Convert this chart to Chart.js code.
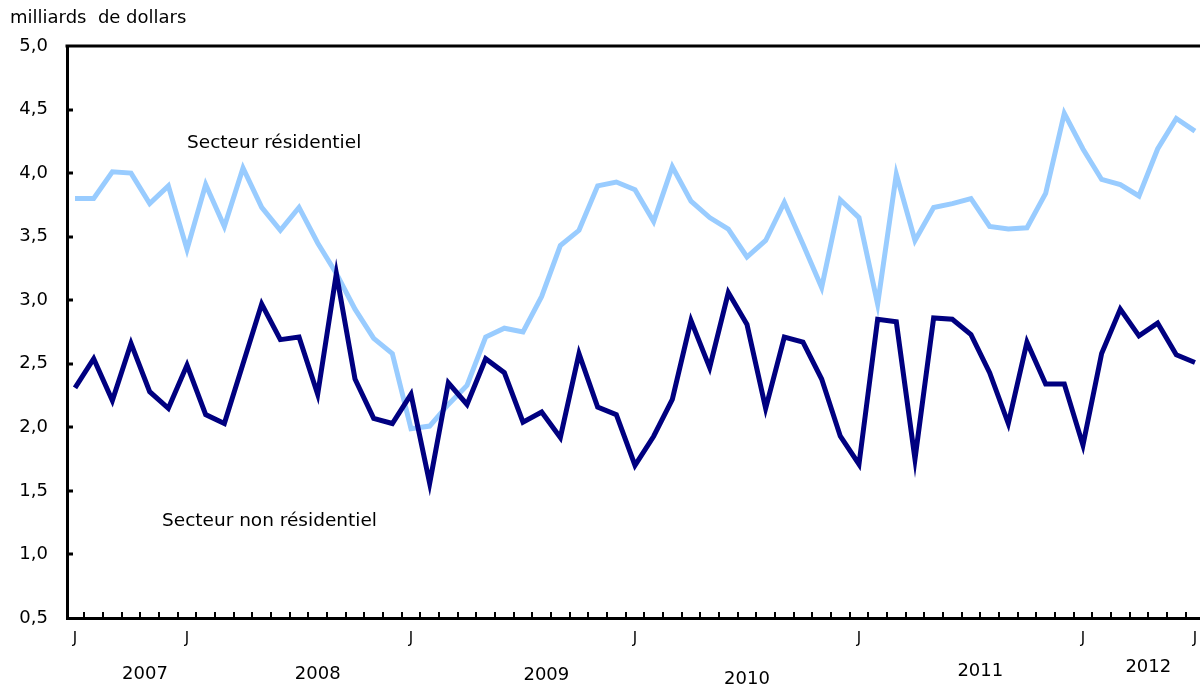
<!DOCTYPE html>
<html>
<head>
<meta charset="utf-8">
<script src="https://cdn.jsdelivr.net/npm/chart.js@4.4.0/dist/chart.umd.min.js"></script>
<style>
  html, body { margin: 0; padding: 0; background: #fff; }
  #wrap { width: 1200px; height: 685px; position: relative; }
</style>
</head>
<body>
<div id="wrap"><canvas id="graphique"></canvas></div>
<script>
// valeurs mensuelles, janvier 2007 a janvier 2012 (milliards de dollars)
const residentiel = [3.80, 3.80, 4.01, 4.00, 3.76, 3.90, 3.40, 3.91, 3.58, 4.04,
  3.73, 3.55, 3.73, 3.45, 3.21, 2.93, 2.70, 2.58, 1.99, 2.01,
  2.18, 2.33, 2.71, 2.78, 2.75, 3.03, 3.43, 3.55, 3.90, 3.93,
  3.87, 3.62, 4.05, 3.78, 3.65, 3.56, 3.34, 3.47, 3.77, 3.44,
  3.10, 3.79, 3.65, 2.97, 3.99, 3.47, 3.73, 3.76, 3.80, 3.58,
  3.56, 3.57, 3.84, 4.47, 4.19, 3.95, 3.91, 3.82, 4.19, 4.43, 4.33];
const nonResidentiel = [2.31, 2.54, 2.21, 2.66, 2.28, 2.15, 2.49, 2.10, 2.03, 2.50,
  2.97, 2.69, 2.71, 2.26, 3.21, 2.38, 2.07, 2.03, 2.26, 1.56,
  2.35, 2.18, 2.54, 2.43, 2.04, 2.12, 1.92, 2.58, 2.16, 2.10,
  1.70, 1.93, 2.22, 2.84, 2.47, 3.06, 2.81, 2.15, 2.71, 2.67,
  2.38, 1.93, 1.71, 2.85, 2.83, 1.75, 2.86, 2.85, 2.73, 2.43,
  2.03, 2.67, 2.34, 2.34, 1.86, 2.58, 2.93, 2.72, 2.82, 2.57, 2.51];

// etiquettes de l'axe des x (telles qu'elles figurent sur le graphique)
const moisEtiquettes = [0, 6, 18, 30, 42, 54, 60];
const annees = ['2007', '2008', '2009', '2010', '2011', '2012'];
const anneesPos = [3.75, 13.0, 25.25, 36.0, 48.5, 57.5];
const anneesDecalage = [0, 0, 1, 5, -3, -7];
const yTicks = [0.5, 1.0, 1.5, 2.0, 2.5, 3.0, 3.5, 4.0, 4.5, 5.0];

const police = '"DejaVu Sans", "Liberation Sans", Arial, sans-serif';

const habillage = {
  id: 'habillage',
  afterDraw: (chart) => {
    const { ctx, chartArea } = chart;
    const xs = chart.scales.x;
    const ys = chart.scales.y;
    ctx.save();
    ctx.strokeStyle = '#000';
    ctx.lineWidth = 3;
    // bordure du haut
    ctx.beginPath();
    ctx.moveTo(chartArea.left - 1.5, chartArea.top);
    ctx.lineTo(chartArea.right, chartArea.top);
    ctx.stroke();
    // graduations x (entre les mois), vers l'interieur
    ctx.lineWidth = 2;
    for (let i = 0; i < residentiel.length - 1; i++) {
      const px = Math.round(xs.getPixelForValue(i + 0.5));
      ctx.beginPath();
      ctx.moveTo(px, chartArea.bottom);
      ctx.lineTo(px, chartArea.bottom - 6);
      ctx.stroke();
    }
    // graduations y, vers l'interieur
    ctx.lineWidth = 3;
    yTicks.forEach(v => {
      if (v === 0.5 || v === 5.0) return;
      const py = Math.round(ys.getPixelForValue(v));
      ctx.beginPath();
      ctx.moveTo(chartArea.left, py);
      ctx.lineTo(chartArea.left + 6, py);
      ctx.stroke();
    });
    ctx.fillStyle = '#000';
    ctx.textAlign = 'center';
    ctx.textBaseline = 'middle';
    // mois (J)
    ctx.font = '15px ' + police;
    moisEtiquettes.forEach(v => {
      ctx.fillText('J', xs.getPixelForValue(v), chartArea.bottom + 21);
    });
    // annees
    ctx.font = '18px ' + police;
    annees.forEach((a, k) => {
      ctx.fillText(a, xs.getPixelForValue(anneesPos[k]), chartArea.bottom + 56 + anneesDecalage[k]);
    });
    // titre de l'axe
    ctx.textAlign = 'left';
    ctx.fillText('milliards  de dollars', 10, 18);
    // noms des series
    ctx.font = '18.5px ' + police;
    ctx.fillText('Secteur résidentiel', 187, 143);
    ctx.fillText('Secteur non résidentiel', 162, 521);
    ctx.restore();
  }
};

new Chart(document.getElementById('graphique'), {
  type: 'line',
  data: {
    datasets: [
      {
        label: 'Secteur résidentiel',
        data: residentiel.map((v, i) => ({ x: i, y: v })),
        borderColor: '#99ccff',
        borderWidth: 5,
        pointRadius: 0,
        tension: 0,
        order: 2
      },
      {
        label: 'Secteur non résidentiel',
        data: nonResidentiel.map((v, i) => ({ x: i, y: v })),
        borderColor: '#000080',
        borderWidth: 5,
        pointRadius: 0,
        tension: 0,
        order: 1
      }
    ]
  },
  options: {
    responsive: true,
    maintainAspectRatio: false,
    animation: false,
    layout: { padding: { top: 46, right: 0, left: 0, bottom: 0 } },
    plugins: { legend: { display: false }, tooltip: { enabled: false } },
    scales: {
      x: {
        type: 'linear',
        min: -0.43,
        max: 60.27,
        grid: { display: false, drawTicks: false },
        border: { display: true, color: '#000', width: 3 },
        afterFit: (scale) => { scale.height = 67; },
        ticks: { display: false }
      },
      y: {
        min: 0.5,
        max: 5.0,
        grid: { display: false, drawTicks: false },
        border: { display: true, color: '#000', width: 3 },
        afterBuildTicks: (scale) => {
          scale.ticks = yTicks.map(v => ({ value: v }));
        },
        afterFit: (scale) => { scale.width = 67; },
        ticks: {
          padding: 19,
          color: '#000',
          font: { family: police, size: 18 },
          callback: (v) => v.toFixed(1).replace('.', ',')
        }
      }
    }
  },
  plugins: [habillage]
});
</script>
</body>
</html>
